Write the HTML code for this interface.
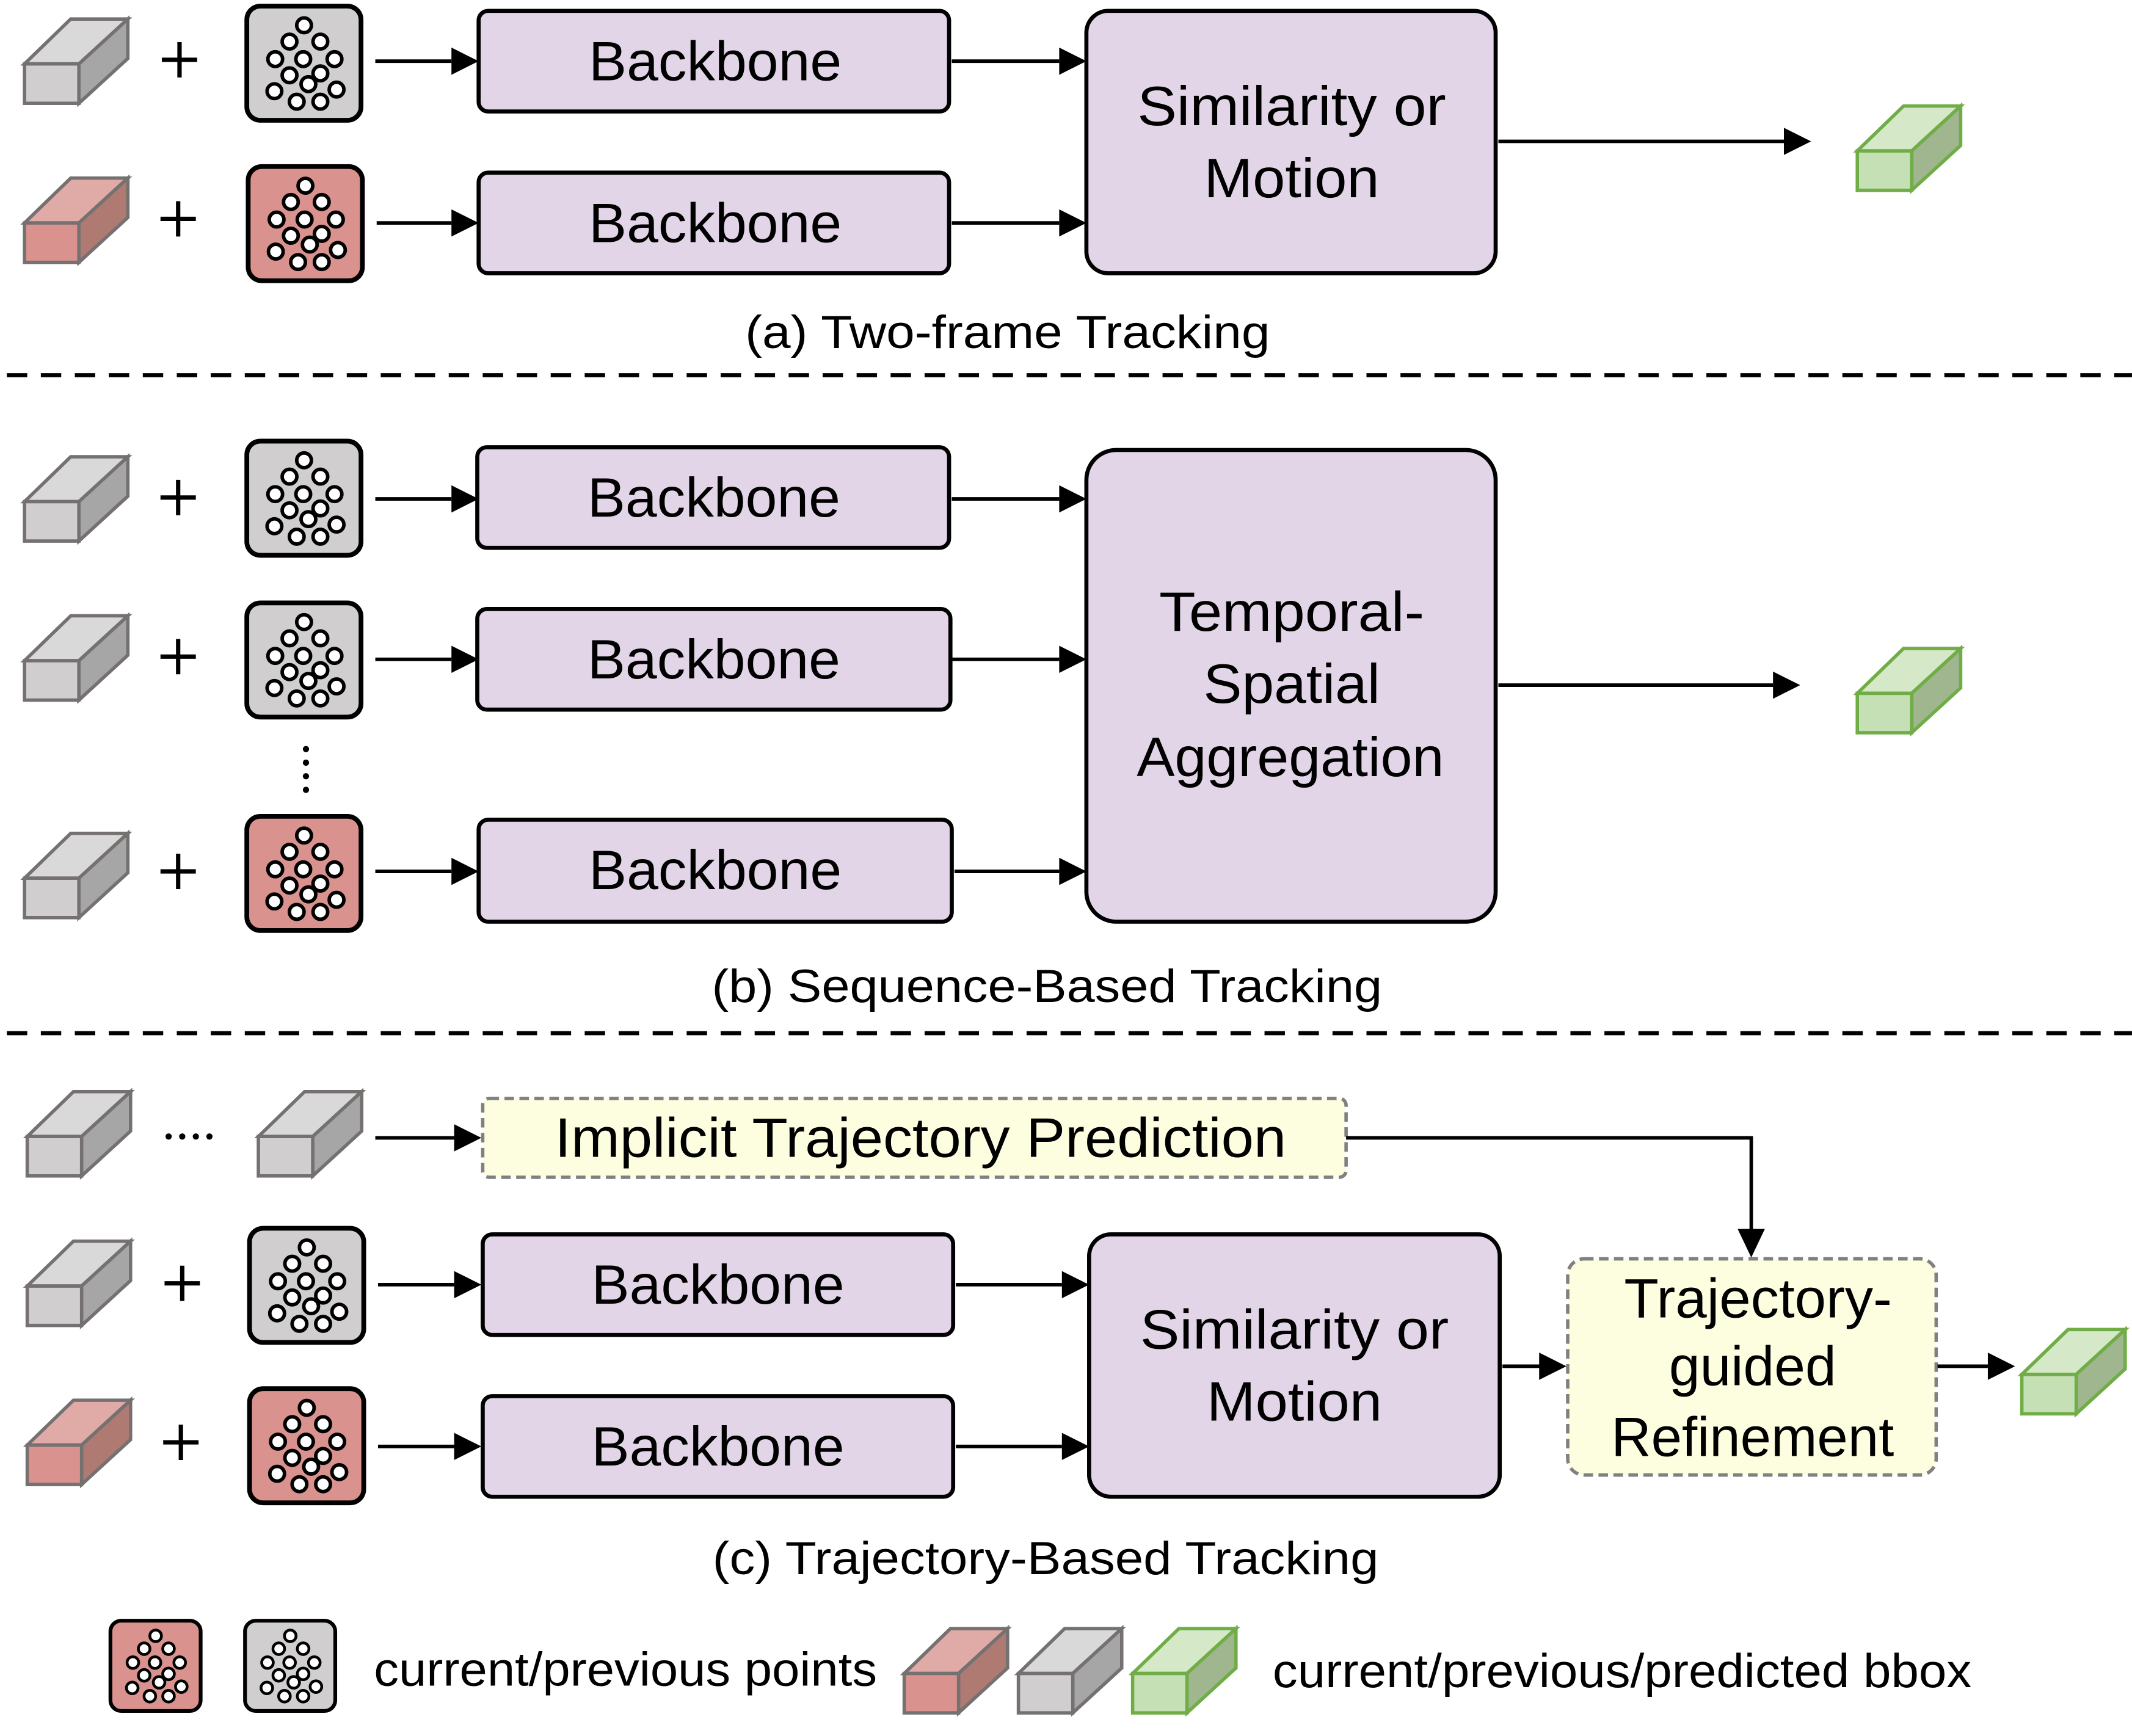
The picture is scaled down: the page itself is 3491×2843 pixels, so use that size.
<!DOCTYPE html>
<html><head><meta charset="utf-8">
<style>html,body{margin:0;padding:0;background:#fff;}svg{display:block;}</style>
</head><body>
<svg width="3491" height="2843" viewBox="0 0 1568 1277" xmlns="http://www.w3.org/2000/svg">
<defs>
<g id="pts">
<g fill="#fff" stroke="#000" stroke-width="2.6">
<circle cx="43.6" cy="15.6" r="5.4"/><circle cx="32.9" cy="27.6" r="5.4"/><circle cx="55.6" cy="27.6" r="5.4"/>
<circle cx="22.4" cy="40.5" r="5.4"/><circle cx="43" cy="40.5" r="5.4"/><circle cx="66" cy="40.5" r="5.4"/>
<circle cx="32.9" cy="52.4" r="5.4"/><circle cx="55.6" cy="51" r="5.4"/><circle cx="46.8" cy="58.9" r="5.4"/>
<circle cx="21.8" cy="64.1" r="5.4"/><circle cx="67.5" cy="62.9" r="5.4"/><circle cx="38.2" cy="71.8" r="5.4"/><circle cx="55.6" cy="71.8" r="5.4"/>
</g></g>
<g id="gpts"><rect x="1.5" y="1.5" width="84" height="84" rx="10" fill="#d0cece" stroke="#000" stroke-width="3.5"/><use href="#pts"/></g>
<g id="rpts"><rect x="1.5" y="1.5" width="84" height="84" rx="10" fill="#d9928e" stroke="#000" stroke-width="3.5"/><use href="#pts"/></g>
<g id="gcube" stroke="#767171" stroke-width="2.5" stroke-linejoin="miter">
<polygon points="0,34 34,1 76,1 40,34" fill="#d9d9d9"/>
<polygon points="40,34 76,1 76,30 40,63" fill="#a6a6a6"/>
<rect x="0" y="34" width="40" height="29" fill="#d0cece"/></g>
<g id="rcube" stroke="#767171" stroke-width="2.5">
<polygon points="0,34 34,1 76,1 40,34" fill="#e0aaa6"/>
<polygon points="40,34 76,1 76,30 40,63" fill="#ae7a72"/>
<rect x="0" y="34" width="40" height="29" fill="#d9928e"/></g>
<g id="ecube" stroke="#70ad47" stroke-width="2.5">
<polygon points="0,34 34,1 76,1 40,34" fill="#d5e8c8"/>
<polygon points="40,34 76,1 76,30 40,63" fill="#9fb68f"/>
<rect x="0" y="34" width="40" height="29" fill="#c5e0b4"/></g>
</defs>

<g font-family="'Liberation Sans',Arial,sans-serif" fill="#000">
<use href="#gcube" x="18" y="13"/>
<use href="#rcube" x="18" y="130"/>
<use href="#gpts" x="180" y="3"/>
<use href="#rpts" x="181" y="121"/>
<g stroke="#000" stroke-width="3.2"><path d="M119 44h26M132 31v26M118 161h26M131 148v26"/></g>

<use href="#gcube" x="18" y="335"/>
<use href="#gcube" x="18" y="452"/>
<use href="#gcube" x="18" y="612"/>
<use href="#gpts" x="180" y="323"/>
<use href="#gpts" x="180" y="442"/>
<use href="#rpts" x="180" y="599"/>
<g stroke="#000" stroke-width="3.2"><path d="M118 366h26M131 353v26M118 483h26M131 470v26M118 641h26M131 628v26"/></g>
<g fill="#000"><circle cx="225" cy="551" r="2.3"/><circle cx="225" cy="561" r="2.3"/><circle cx="225" cy="571" r="2.3"/><circle cx="225" cy="581" r="2.3"/></g>

<use href="#gcube" x="20" y="802"/>
<use href="#gcube" x="190" y="802"/>
<g fill="#000"><circle cx="124" cy="836" r="2.3"/><circle cx="134" cy="836" r="2.3"/><circle cx="144" cy="836" r="2.3"/><circle cx="154" cy="836" r="2.3"/></g>
<use href="#gcube" x="20" y="912"/>
<use href="#rcube" x="20" y="1029"/>
<use href="#gpts" x="182" y="902"/>
<use href="#rpts" x="182" y="1020"/>
<g stroke="#000" stroke-width="3.2"><path d="M121 944h26M134 931v26M120 1061h26M133 1048v26"/></g>

<g fill="#e1d5e7" stroke="#000" stroke-width="3">
<rect x="352" y="8" width="346" height="74" rx="7"/>
<rect x="352" y="127" width="346" height="74" rx="7"/>
<rect x="799" y="8" width="301" height="193" rx="16"/>
<rect x="351" y="329" width="347" height="74" rx="7"/>
<rect x="351" y="448" width="348" height="74" rx="7"/>
<rect x="352" y="603" width="348" height="75" rx="7"/>
<rect x="799" y="331" width="301" height="347" rx="22"/>
<rect x="355" y="908" width="346" height="74" rx="7"/>
<rect x="355" y="1027" width="346" height="74" rx="7"/>
<rect x="801" y="908" width="302" height="193" rx="16"/>
</g>
<g fill="#fdfde0" stroke="#808080" stroke-width="2.5" stroke-dasharray="7 4">
<rect x="355" y="808" width="635" height="58" rx="5"/>
<rect x="1153" y="926" width="271" height="159" rx="12"/>
</g>

<g stroke="#000" stroke-width="2.6" fill="none">
<path d="M276 45H332M277 164H332M700 45H779M700 164H779M1102 104H1312"/>
<path d="M276 367H332M276 485H332M276 641H332M700 367H779M700 485H779M702 641H779M1102 504H1304"/>
<path d="M276 837H334M990 837H1288V906M278 945H334M278 1064H334M703 945H781M703 1064H781M1105 1005H1133M1425 1005H1462"/>
</g>
<g fill="#000">
<polygon points="332,35 352,45 332,55"/><polygon points="332,154 352,164 332,174"/>
<polygon points="779,35 799,45 779,55"/><polygon points="779,154 799,164 779,174"/>
<polygon points="1312,94 1332,104 1312,114"/>
<polygon points="332,357 352,367 332,377"/><polygon points="332,475 352,485 332,495"/><polygon points="332,631 352,641 332,651"/>
<polygon points="779,357 799,367 779,377"/><polygon points="779,475 799,485 779,495"/><polygon points="779,631 799,641 779,651"/>
<polygon points="1304,494 1324,504 1304,514"/>
<polygon points="334,827 354,837 334,847"/>
<polygon points="1278,904 1288,925 1298,904"/>
<polygon points="334,935 354,945 334,955"/><polygon points="334,1054 354,1064 334,1074"/>
<polygon points="781,935 801,945 781,955"/><polygon points="781,1054 801,1064 781,1074"/>
<polygon points="1132,995 1152,1005 1132,1015"/>
<polygon points="1462,995 1482,1005 1462,1015"/>
</g>

<use href="#ecube" x="1366" y="77"/>
<use href="#ecube" x="1366" y="476"/>
<use href="#ecube" x="1487" y="977"/>

<g stroke="#000" stroke-width="3" stroke-dasharray="15 10">
<path d="M5 276H1568M5 760H1568"/>
</g>

<g font-size="41" text-anchor="middle">
<text x="526" y="59" textLength="186" lengthAdjust="spacingAndGlyphs">Backbone</text>
<text x="526" y="178" textLength="186" lengthAdjust="spacingAndGlyphs">Backbone</text>
<text x="950" y="92" textLength="227" lengthAdjust="spacingAndGlyphs">Similarity or</text>
<text x="950" y="145" textLength="129" lengthAdjust="spacingAndGlyphs">Motion</text>
<text x="525" y="380" textLength="186" lengthAdjust="spacingAndGlyphs">Backbone</text>
<text x="525" y="499" textLength="186" lengthAdjust="spacingAndGlyphs">Backbone</text>
<text x="526" y="654" textLength="186" lengthAdjust="spacingAndGlyphs">Backbone</text>
<text x="950" y="464" textLength="195" lengthAdjust="spacingAndGlyphs">Temporal-</text>
<text x="950" y="517" textLength="130" lengthAdjust="spacingAndGlyphs">Spatial</text>
<text x="949" y="571" textLength="226" lengthAdjust="spacingAndGlyphs">Aggregation</text>
<text x="677" y="851" textLength="538" lengthAdjust="spacingAndGlyphs">Implicit Trajectory Prediction</text>
<text x="528" y="959" textLength="186" lengthAdjust="spacingAndGlyphs">Backbone</text>
<text x="528" y="1078" textLength="186" lengthAdjust="spacingAndGlyphs">Backbone</text>
<text x="952" y="992" textLength="227" lengthAdjust="spacingAndGlyphs">Similarity or</text>
<text x="952" y="1045" textLength="129" lengthAdjust="spacingAndGlyphs">Motion</text>
<text x="1293" y="969" textLength="197" lengthAdjust="spacingAndGlyphs">Trajectory-</text>
<text x="1289" y="1019" textLength="123" lengthAdjust="spacingAndGlyphs">guided</text>
<text x="1289" y="1071" textLength="208" lengthAdjust="spacingAndGlyphs">Refinement</text>
</g>

<g font-size="34" text-anchor="middle">
<text x="741" y="256" textLength="386" lengthAdjust="spacingAndGlyphs">(a) Two-frame Tracking</text>
<text x="770" y="737" textLength="493" lengthAdjust="spacingAndGlyphs">(b) Sequence-Based Tracking</text>
<text x="769" y="1158" textLength="490" lengthAdjust="spacingAndGlyphs">(c) Trajectory-Based Tracking</text>
</g>

<g transform="translate(80,1191) scale(0.79)"><use href="#rpts"/></g>
<g transform="translate(179,1191) scale(0.79)"><use href="#gpts"/></g>
<use href="#rcube" x="665" y="1197"/>
<use href="#gcube" x="749" y="1197"/>
<use href="#ecube" x="833" y="1197"/>
<g font-size="35">
<text x="275" y="1240" textLength="370" lengthAdjust="spacingAndGlyphs">current/previous points</text>
<text x="936" y="1241" textLength="514" lengthAdjust="spacingAndGlyphs">current/previous/predicted bbox</text>
</g>
</g>
</svg>
</body></html>
